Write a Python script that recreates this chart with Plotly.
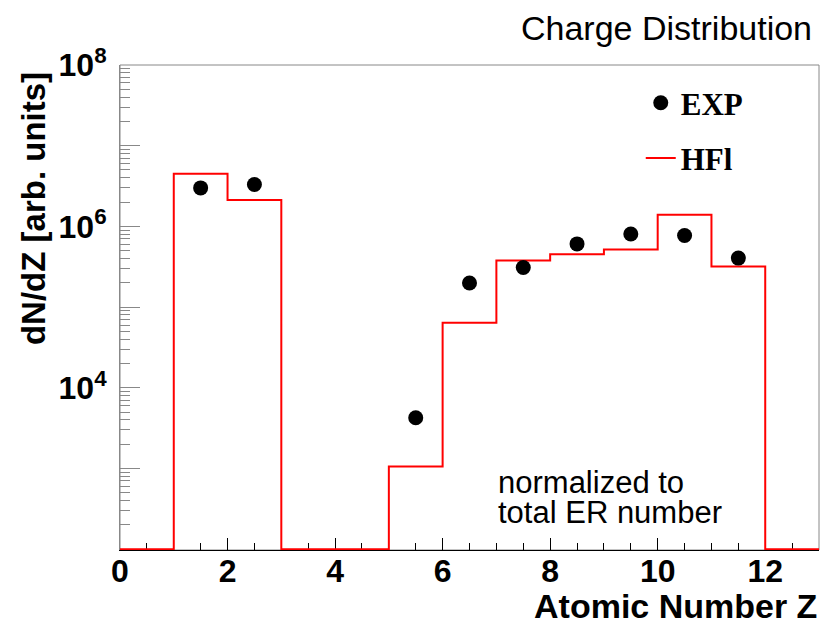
import plotly.graph_objects as go

# ---- data ----
bin_edges = list(range(0, 14))
hfl_counts = [0, 4.5e6, 2.13e6, 0, 0, 1.06e3, 6.4e4, 3.78e5, 4.53e5, 5.16e5, 1.39e6, 3.19e5, 0]
exp_z = [1.5, 2.5, 5.5, 6.5, 7.5, 8.5, 9.5, 10.5, 11.5]
exp_vals = [3.0e6, 3.3e6, 4.25e3, 1.99e5, 3.1e5, 6.07e5, 8.05e5, 7.7e5, 4.05e5]
y_floor = 1e2
x_tick_vals = [0, 2, 4, 6, 8, 10, 12]
y_tick_vals = [1e2, 1e3, 1e4, 1e5, 1e6, 1e7, 1e8]
y_tick_text = ["", "", "10<sup>4</sup>", "", "10<sup>6</sup>", "", "10<sup>8</sup>"]

hfl_plot = [max(v, y_floor) for v in hfl_counts]
hfl_step_y = hfl_plot + [hfl_plot[-1]]

SANS = "Liberation Sans"
SERIF = "Liberation Serif"
GREY = "#888888"

fig = go.Figure()
fig.add_trace(go.Scatter(
    x=bin_edges, y=hfl_step_y, mode="lines", line_shape="hv",
    line=dict(color="#ff0000", width=2), name="HFl",
    legendgroup="b", legendrank=2,
))
fig.add_trace(go.Scatter(
    x=exp_z, y=exp_vals, mode="markers",
    marker=dict(color="black", size=15, symbol="circle"), name="EXP",
    legendgroup="a", legendrank=1,
))

minor_y = [m * 10 ** e for e in range(2, 8) for m in range(2, 10)]

fig.update_layout(
    width=823, height=620,
    margin=dict(l=120, r=4, t=65, b=70),
    paper_bgcolor="white", plot_bgcolor="white",
    showlegend=True,
    legend=dict(x=0.745, xanchor="left", y=0.977, yanchor="top",
                font=dict(family=SERIF, size=31, color="black", weight="bold"),
                bgcolor="rgba(0,0,0,0)", tracegroupgap=12, itemwidth=30),
    xaxis=dict(
        range=[0, 13], tickmode="array", tickvals=x_tick_vals,
        ticks="inside", ticklen=12, tickcolor="black", tickwidth=1,
        showline=True, linecolor="black", linewidth=1,
        showgrid=False, zeroline=False, layer="below traces",
        tickfont=dict(family=SANS, size=32, color="black", weight="bold"),
        ticklabelstandoff=-7,
        minor=dict(tickmode="linear", tick0=0, dtick=0.5, ticks="inside",
                   ticklen=7, tickcolor="black", showgrid=False),
    ),
    yaxis=dict(
        type="log", range=[1.99, 8], tickmode="array", tickvals=y_tick_vals,
        ticktext=y_tick_text, ticks="inside", ticklen=20, tickcolor=GREY,
        showline=True, linecolor=GREY, linewidth=1,
        showgrid=False, zeroline=False,
        tickfont=dict(family=SANS, size=32, color="black", weight="bold"),
        ticklabelstandoff=6,
        minor=dict(tickmode="array", tickvals=minor_y, ticks="inside",
                   ticklen=10, tickcolor=GREY, showgrid=False),
    ),
    shapes=[dict(type="rect", xref="paper", yref="paper", x0=0, x1=1, y0=0, y1=1,
                 line=dict(color=GREY, width=1), layer="below")],
    annotations=[
        dict(text="Charge Distribution", xref="paper", yref="paper", x=1, xshift=-5,
             y=1.076, xanchor="right", yanchor="middle", showarrow=False,
             font=dict(family=SANS, size=34, color="black")),
        dict(text="<b>Atomic Number Z</b>", xref="paper", yref="paper", x=1,
             y=-0.116, xanchor="right", yanchor="middle", showarrow=False,
             font=dict(family=SANS, size=34, color="black")),
        dict(text="<b>dN/dZ [arb. units]</b>", xref="paper", yref="paper", x=-0.1245,
             y=0.705, xanchor="center", yanchor="middle", textangle=-90, showarrow=False,
             font=dict(family=SANS, size=33, color="black")),
        dict(text="normalized to", xref="paper", yref="paper", x=0.538,
             y=0.140, xanchor="left", yanchor="middle", showarrow=False,
             font=dict(family=SANS, size=31, color="black")),
        dict(text="total ER number", xref="paper", yref="paper", x=0.538,
             y=0.077, xanchor="left", yanchor="middle", showarrow=False,
             font=dict(family=SANS, size=31, color="black")),
    ],
)

fig.write_html("out.html")
